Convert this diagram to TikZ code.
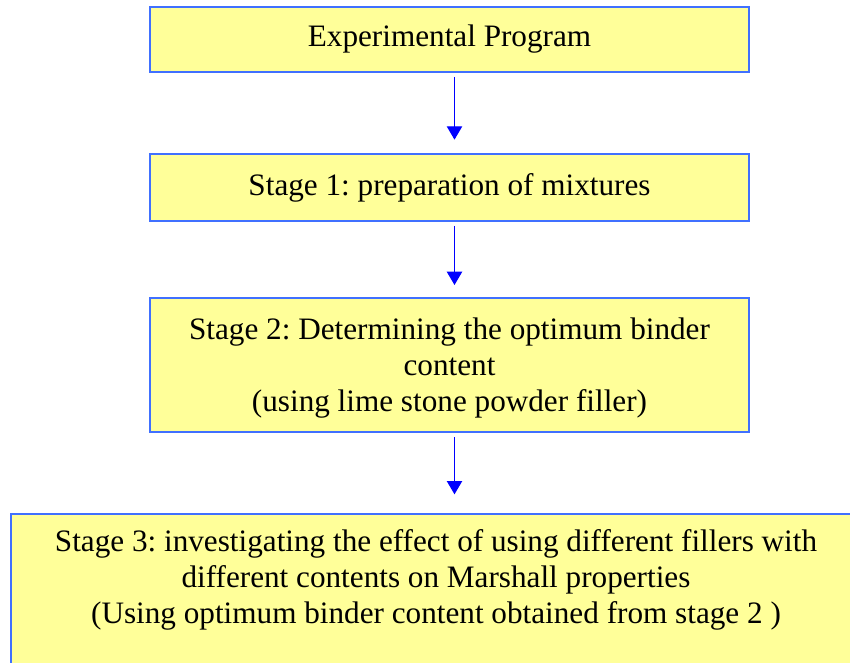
\documentclass[tikz,border=0pt]{standalone}
\usepackage{fontspec}
\setmainfont{Liberation Serif}
\usepackage{xcolor}
\usetikzlibrary{arrows.meta}
\frenchspacing

\definecolor{boxfill}{RGB}{255,255,153}
\definecolor{boxline}{RGB}{64,112,255}

\tikzset{
  stagetext/.style={align=center, font=\fontsize{23.4}{27}\selectfont},
  stagebox/.style={draw=boxline, fill=boxfill, line width=1.5pt, inner sep=0pt, stagetext},
  flowarrow/.style={-{Triangle[length=10pt,width=11.5pt]}, blue, line width=0.9pt}
}

\begin{document}
\begin{tikzpicture}[x=0.75pt, y=-0.75pt]
    \useasboundingbox (0,0) rectangle (850,663);
    \clip (0,0) rectangle (850,663);

    % Boxes
    \node[stagebox, minimum width=599*0.75pt, minimum height=65*0.75pt] (prog) at (449.5,39.5) {Experimental Program};
    \node[stagebox, minimum width=599*0.75pt, minimum height=67*0.75pt] (st1) at (449.5,187.5) {Stage 1: preparation of mixtures};
    \node[stagebox, minimum width=599*0.75pt, minimum height=134*0.75pt] (st2) at (449.5,365) {};
    \node[stagetext, inner sep=0pt] (st2text) at (449.5,368)
        {Stage 2: Determining the optimum binder\\content\\(using lime stone powder filler)};
    \node[stagebox, minimum width=852*0.75pt, minimum height=200*0.75pt, anchor=north west] (st3) at (10,513) {};
    \node[stagetext, inner sep=0pt] (st3text) at (436,580)
        {Stage 3: investigating the effect of using different fillers with\\different contents on Marshall properties\\(Using optimum binder content obtained from stage 2 )};

    % Arrows
    \draw[flowarrow, shorten <=3pt, shorten >=10pt] (prog.south -| 454.5,0) -- (st1.north -| 454.5,0);
    \draw[flowarrow, shorten <=3pt, shorten >=9pt] (st1.south -| 454.5,0) -- (st2.north -| 454.5,0);
    \draw[flowarrow, shorten <=3pt, shorten >=14pt] (st2.south -| 454.5,0) -- (st3.north -| 454.5,0);
\end{tikzpicture}
\end{document}
